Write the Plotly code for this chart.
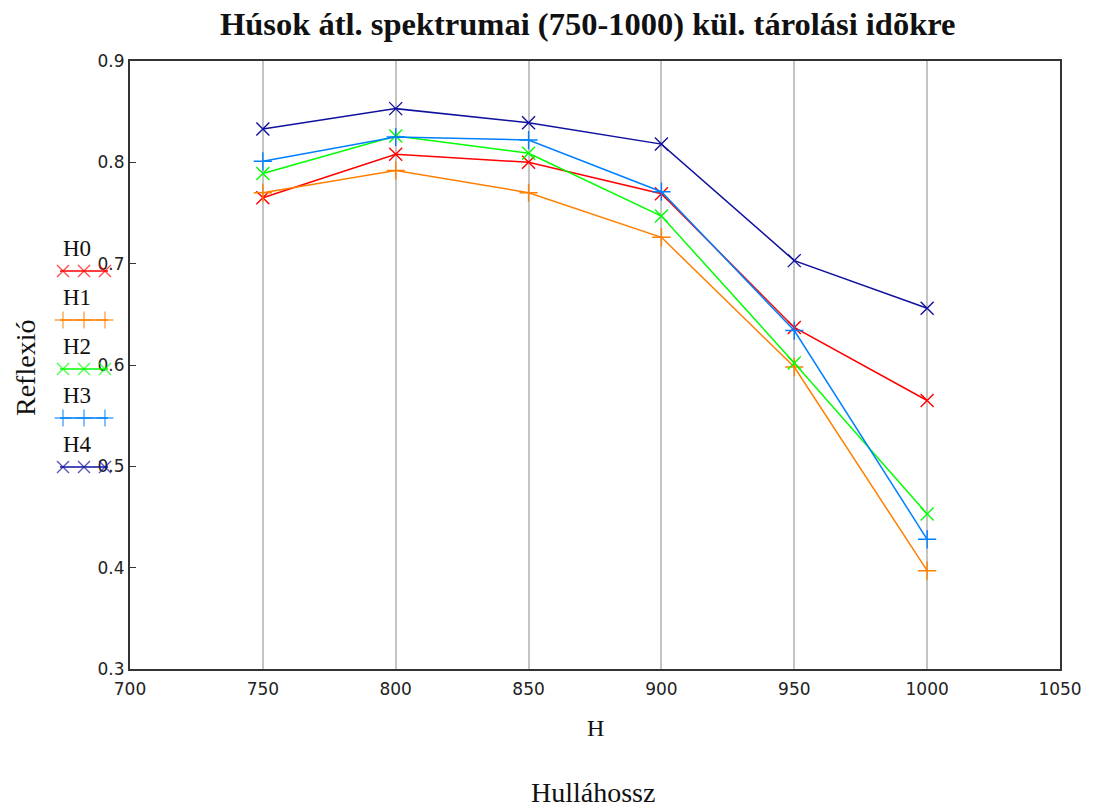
import plotly.graph_objects as go

W, H = 1097, 808
wavelengths = [750, 800, 850, 900, 950, 1000]
series_names = ["H0", "H1", "H2", "H3", "H4"]
H0 = [0.765, 0.808, 0.800, 0.769, 0.637, 0.565]
H1 = [0.770, 0.792, 0.770, 0.726, 0.598, 0.397]
H2 = [0.789, 0.826, 0.809, 0.747, 0.602, 0.453]
H3 = [0.801, 0.825, 0.822, 0.771, 0.634, 0.428]
H4 = [0.833, 0.853, 0.839, 0.818, 0.703, 0.656]
series_values = [H0, H1, H2, H3, H4]
colors = ["#ff0000", "#ff8000", "#00ff00", "#0080ff", "#10109e"]
symbols = ["x-thin", "cross-thin", "x-thin", "cross-thin", "x-thin"]
x_ticks = [700, 750, 800, 850, 900, 950, 1000, 1050]
y_ticks = [0.3, 0.4, 0.5, 0.6, 0.7, 0.8, 0.9]

# plot area in pixels
L, R, T, B = 130, 1060, 61, 669

fig = go.Figure()
for name, vals, c, s in zip(series_names, series_values, colors, symbols):
    fig.add_trace(go.Scatter(
        x=wavelengths, y=vals, mode="lines+markers", name=name,
        line=dict(color=c, width=1.5),
        marker=dict(symbol=s, size=13, line=dict(color=c, width=1.4)),
        showlegend=False, cliponaxis=False))

# custom legend (text above line sample), drawn on a pixel-space overlay axis
for i, (name, c, s) in enumerate(zip(series_names, colors, symbols)):
    ly = 271 + i * 49
    fig.add_trace(go.Scatter(
        x=[60, 63, 84, 105, 108], y=[ly] * 5, mode="lines+markers",
        line=dict(color=c, width=1.5),
        marker=dict(symbol=s, size=[0, 12, 12, 12, 0], line=dict(color=c, width=1.4)),
        xaxis="x2", yaxis="y2", showlegend=False, hoverinfo="skip", cliponaxis=False))
    fig.add_annotation(x=61, y=ly - 23, xref="x2", yref="y2", text=name,
                       showarrow=False, xanchor="left", yanchor="middle",
                       font=dict(family="Liberation Serif", size=23, color="#111"))

fig.update_layout(
    width=W, height=H,
    margin=dict(l=0, r=0, t=0, b=0),
    paper_bgcolor="white", plot_bgcolor="rgba(0,0,0,0)",
    xaxis=dict(domain=[L / W, R / W], range=[700, 1050], tickvals=x_ticks,
               showgrid=True, gridcolor="#c4c4c4", gridwidth=2,
               showline=True, linecolor="#333", linewidth=2, mirror=True,
               ticks="", zeroline=False, automargin=False, ticklabelstandoff=4,
               tickfont=dict(family="DejaVu Sans", size=17, color="#222")),
    yaxis=dict(domain=[1 - B / H, 1 - T / H], range=[0.3, 0.9], tickvals=y_ticks,
               ticktext=[f"{v:.1f}" for v in y_ticks],
               showgrid=False, showline=True, linecolor="#333", linewidth=2, mirror=True,
               ticks="inside", ticklen=6, tickcolor="#333", zeroline=False, automargin=False,
               ticklabelstandoff=0,
               tickfont=dict(family="DejaVu Sans", size=17, color="#222")),
    xaxis2=dict(domain=[0, 1], range=[0, W], visible=False, fixedrange=True),
    yaxis2=dict(domain=[0, 1], range=[H, 0], visible=False, fixedrange=True),
    showlegend=False,
)

fig.add_annotation(x=588 / W, y=1 - 24 / H, xref="paper", yref="paper", yanchor="middle",
                   text="<b>Húsok átl. spektrumai (750-1000) kül. tárolási idõkre</b>",
                   showarrow=False, font=dict(family="Liberation Serif", size=32.5, color="#111"))
fig.add_annotation(x=595 / W, y=1 - 728 / H, xref="paper", yref="paper", yanchor="middle", text="H",
                   showarrow=False, font=dict(family="Liberation Serif", size=24, color="#111"))
fig.add_annotation(x=593 / W, y=1 - 792 / H, xref="paper", yref="paper", yanchor="middle", text="Hulláhossz",
                   showarrow=False, font=dict(family="Liberation Serif", size=28, color="#111"))
fig.add_annotation(x=26 / W, y=1 - 368 / H, xref="paper", yref="paper",
                   xanchor="center", yanchor="middle", text="Reflexió",
                   textangle=-90, showarrow=False,
                   font=dict(family="Liberation Serif", size=28, color="#111"))

fig.write_html("out.html")
